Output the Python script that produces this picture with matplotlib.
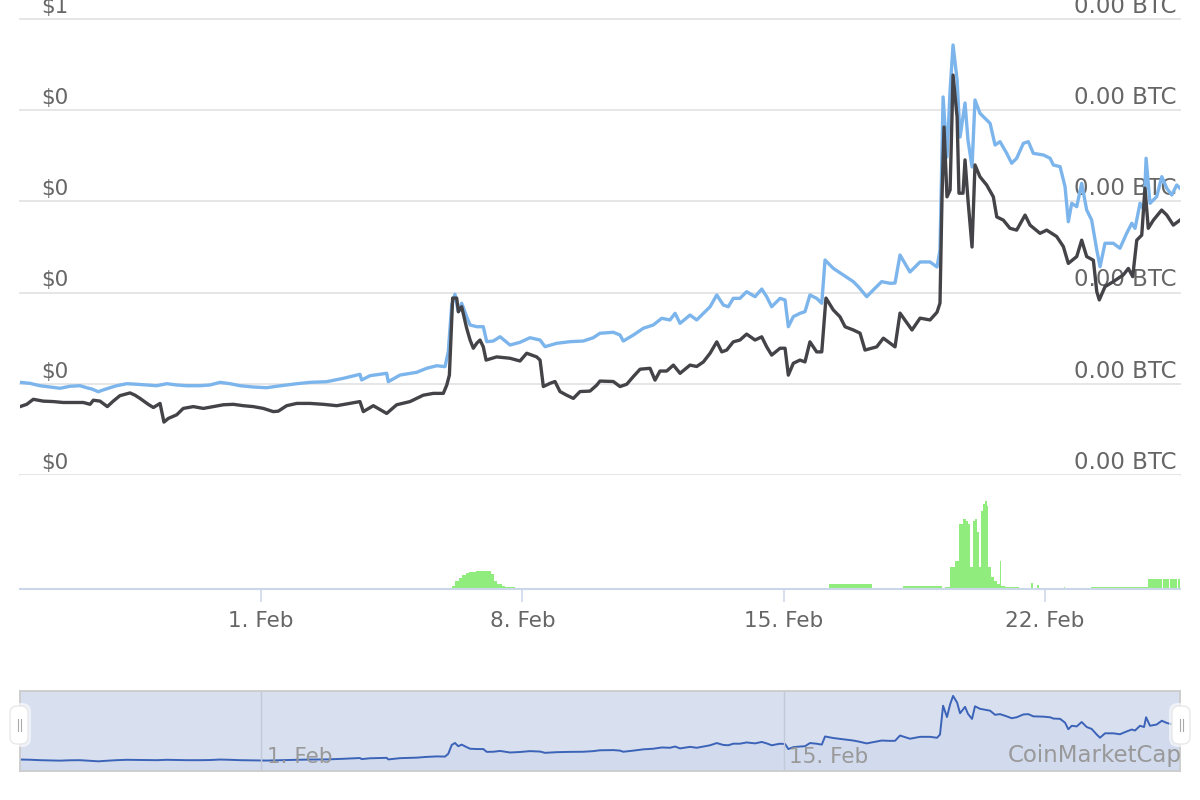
import math

import matplotlib
matplotlib.use('Agg')
import matplotlib.pyplot as plt
import matplotlib.dates as mdates
from matplotlib.patches import FancyBboxPatch
from matplotlib.transforms import IdentityTransform
import pandas as pd

# Hourly data, hours counted from 25 Jan 2021 00:00
START = pd.Timestamp('2021-01-25 00:00')
VIEW_HOURS = (13.06, 758.8)

# Price in USD (left axis, light blue line)
usd_hours = [13.1, 19.5, 25.9, 32.3, 38.8, 45.2, 51.6, 55.9, 59.2, 63.4, 66.4, 70.9, 75.2, 81.7,
             88.1, 94.5, 100.9, 107.4, 113.8, 120.2, 128.8, 135.2, 141.6, 148.1, 154.5, 163.0,
             171.7, 178.1, 184.5, 191.0,
             199.5, 210.2, 220.9, 231.6, 232.7, 238.1, 248.8, 249.8, 257.4, 268.1, 274.5, 281.0,
             286.3, 288.4, 290.6, 292.7, 294.8, 297.0, 300.2, 302.4, 306.7, 310.9, 313.1, 317.3,
             321.7, 328.1, 334.5, 340.9, 347.4, 350.6, 358.1, 366.7, 375.2, 381.6,
             385.9, 394.5, 398.8, 400.9, 407.4, 413.8, 420.2, 425.6, 430.9, 434.2, 437.4, 443.8,
             448.1, 452.4, 456.7, 461.0, 465.2, 468.4, 471.6, 475.9, 480.2, 485.6, 489.9, 493.1,
             496.3, 501.7, 504.9, 507.0, 510.2, 514.5, 517.7, 520.9, 525.2, 528.5, 530.6, 535.9,
             542.4, 548.8, 552.0, 557.4, 561.6, 567.0, 572.4,
             575.6, 578.8, 585.2, 591.7, 598.1, 602.6, 604.5, 606.5, 609.0, 611.0, 612.9, 615.5,
             617.4, 620.6, 622.5, 625.1, 627.0,
             630.2, 636.7, 639.9, 643.1, 647.4, 650.6, 653.8, 658.1, 661.3, 664.5, 671.0, 675.3,
             677.4, 681.7, 684.9, 687.0, 689.2, 692.4, 695.6, 698.8, 702.0, 705.3, 707.4, 710.6,
             715.9, 720.2, 724.5, 727.8, 729.9, 733.1, 735.7, 737.0, 739.5, 743.8, 747.1, 750.3,
             753.5, 756.7, 758.8]
usd_price = [0.1016, 0.1005, 0.0979, 0.0965, 0.0951, 0.0973, 0.0979, 0.0957, 0.0943, 0.0913,
             0.0932, 0.0957, 0.0979, 0.1001, 0.0995, 0.0987, 0.0979, 0.1001, 0.0987, 0.0979,
             0.0979, 0.0987, 0.1016, 0.1001, 0.0979, 0.0965, 0.0957, 0.0973, 0.0987, 0.1001,
             0.1016, 0.1023, 0.1060, 0.1104, 0.1042, 0.1089, 0.1115, 0.1023, 0.1096, 0.1126,
             0.1170, 0.1198, 0.1188, 0.1352, 0.1864, 0.1981, 0.1791, 0.1883, 0.1736, 0.1645,
             0.1626, 0.1626, 0.1462, 0.1469, 0.1516, 0.1425, 0.1455, 0.1505, 0.1480, 0.1407,
             0.1444, 0.1462, 0.1469, 0.1505,
             0.1554, 0.1565, 0.1535, 0.1469, 0.1535, 0.1609, 0.1645, 0.1718, 0.1700, 0.1773,
             0.1663, 0.1754, 0.1700, 0.1773, 0.1845, 0.1974, 0.1864, 0.1845, 0.1937, 0.1937,
             0.2010, 0.1955, 0.2039, 0.1955, 0.1845, 0.1937, 0.1919, 0.1626, 0.1736, 0.1773,
             0.1791, 0.1974, 0.1937, 0.1883, 0.2357, 0.2266, 0.2193, 0.2120, 0.2065, 0.1955,
             0.2029, 0.2120, 0.2102,
             0.2105, 0.2412, 0.2226, 0.2336, 0.2336, 0.2281, 0.2467, 0.4145, 0.3487, 0.4221,
             0.4715, 0.4331, 0.3706, 0.4079, 0.3673, 0.3377, 0.4112,
             0.3966, 0.3856, 0.3618, 0.3655, 0.3527, 0.3418, 0.3473, 0.3637, 0.3655, 0.3527,
             0.3509, 0.3473, 0.3399, 0.3381, 0.3161, 0.2777, 0.2979, 0.2942, 0.3198, 0.2906,
             0.2796, 0.2467, 0.2284, 0.2541, 0.2541, 0.2486, 0.2650, 0.2760, 0.2705, 0.2979,
             0.2906, 0.3473, 0.2979, 0.3052, 0.3271, 0.3144, 0.3070, 0.3180, 0.3144]

# Price in BTC (right axis, dark line), in satoshi
btc_hours = [13.1, 17.4, 21.6, 28.0, 34.5, 40.9, 47.3, 53.8, 58.1, 60.2, 64.5, 69.2, 73.0, 77.3,
             83.8, 87.0, 90.2, 95.5, 98.8, 103.1, 105.6, 108.4, 113.8, 118.0, 124.5, 130.9, 137.3,
             143.8, 150.2, 156.6, 163.0, 169.5, 175.9, 179.1, 184.5, 191.0,
             199.5, 208.1, 216.7, 225.2, 231.6, 233.8, 240.2, 248.8, 255.2, 263.8, 272.3, 278.8,
             285.2, 287.4, 289.1, 291.2, 293.8, 294.9, 297.0, 300.2, 302.4, 304.5, 306.7, 308.8,
             310.9, 312.7, 319.5, 328.1, 334.5, 338.8, 345.2, 347.4, 349.5, 353.8, 357.0, 360.2,
             364.5, 368.8, 373.1, 379.5, 383.8,
             385.9, 394.5, 398.8, 403.1, 407.4, 411.7, 418.1, 421.3, 424.5, 428.8, 433.1, 437.4,
             443.8, 448.1, 452.4, 456.7, 461.0, 464.2, 467.4, 471.6, 475.9, 480.2, 485.6, 489.9,
             493.1, 496.3, 501.7, 504.9, 507.0, 510.2, 514.5, 517.7, 520.9, 525.2, 528.5, 531.2,
             535.9, 540.2, 543.5, 548.8, 553.1, 556.3, 563.8, 568.1, 572.4,
             575.6, 578.8, 586.5, 591.7, 598.1, 602.6, 604.5, 605.8, 607.1, 609.0, 611.0, 612.9,
             615.5, 616.7, 619.3, 620.6, 622.5, 625.1, 627.0,
             630.2, 634.5, 638.8, 641.0, 645.2, 649.5, 653.8, 659.2, 662.4, 668.8, 673.1, 679.5,
             683.8, 687.0, 692.4, 695.6, 698.8, 703.1, 705.3, 706.9, 710.6, 715.9, 722.4, 725.6,
             728.4, 731.0, 734.2, 736.3, 738.4, 741.7, 747.0, 750.3, 754.5, 758.8]
btc_sats = [150, 155, 166, 162, 161, 159, 159, 159, 155, 164, 162, 150, 162, 174, 180, 175, 168,
            155, 148, 157, 116, 124, 132, 146, 150, 146, 150, 154, 155, 152, 150, 146, 139, 140,
            152, 157,
            157, 155, 152, 157, 161, 139, 152, 135, 154, 161, 175, 179, 179, 197, 219, 388, 388,
            358, 369, 322, 296, 278, 289, 296, 281, 252, 259, 256, 250, 267, 259, 252, 194, 201,
            205, 183, 175, 168, 183, 184, 197,
            206, 205, 194, 199, 216, 232, 234, 208, 228, 228, 241, 223, 241, 238, 248, 267, 292,
            270, 274, 292, 296, 309, 296, 303, 281, 263, 278, 278, 219, 245, 252, 248, 292, 270,
            270, 388, 362, 347, 325, 318, 311, 274, 281, 300, 289,
            281, 355, 318, 344, 340, 357, 377, 610, 763, 610, 625, 877, 785, 618, 618, 691, 603,
            500, 680,
            654, 636, 610, 566, 559, 541, 537, 570, 548, 530, 537, 523, 501, 464, 479, 515, 479,
            471, 402, 384, 413, 424, 439, 453, 435, 515, 526, 629, 541, 559, 581, 570, 548, 559]

# 24h volume (thousand USD), stepped
vol_hours = [13, 291, 293, 295, 297, 300, 302, 306, 316, 318, 320, 323, 325, 331,
             533, 561, 581, 606, 608, 611, 614, 617, 619, 621, 622.5, 624, 625.5, 627, 628,
             629.5, 631, 632, 633.5, 635, 635.5, 637, 639, 641, 643, 644, 646, 655,
             663, 664, 667, 668, 684, 685, 701.5, 738, 747, 747.7, 751.5, 752.2, 756.7, 757.4, 759]
vol_k = [0, 3, 8, 11, 14, 16, 17, 18, 15, 8, 5, 3, 2, 0,
         5, 0, 3, 0, 2, 22, 28, 65, 70, 68, 65, 22, 68, 70, 57,
         22, 78, 85, 88, 83, 22, 12, 8, 5, 28, 3, 2, 0,
         6, 0, 4, 0, 2, 0, 2, 10, 0, 10, 0, 10, 0, 10, 10]

usd_ticks = [0, 0.1, 0.2, 0.3, 0.4, 0.5]
btc_ticks = [0, 0.000002, 0.000004, 0.000006, 0.000008, 0.00001]
nav_grid_days = ['2021-02-01', '2021-02-15']

TEXT = '#666666'
FS = 15.5


def to_dates(hours):
    return START + pd.to_timedelta(hours, unit='h')


def px_axes(fig, x0, y0, x1, y1):
    """Axes placed by pixel box (top-left origin) on a 1200x800 figure."""
    return fig.add_axes([x0 / 1200, 1 - y1 / 800, (x1 - x0) / 1200, (y1 - y0) / 800])


def bare(ax):
    for s in ax.spines.values():
        s.set_visible(False)
    ax.tick_params(left=False, right=False, bottom=False, top=False,
                   labelleft=False, labelright=False, labelbottom=False)


fig = plt.figure(figsize=(12, 8), dpi=100)
xlim = (START + pd.Timedelta(hours=VIEW_HOURS[0]), START + pd.Timedelta(hours=VIEW_HOURS[1]))

# price pane
ax = px_axes(fig, 20, 19, 1180, 475)
ax2 = ax.twinx()
for a in (ax, ax2):
    bare(a)
    a.set_xlim(xlim)
ax.set_ylim(usd_ticks[0], usd_ticks[-1])
ax2.set_ylim(btc_ticks[0], btc_ticks[-1])

for v in usd_ticks:
    ax.axhline(v, color='#e6e6e6', lw=1.4, clip_on=False, zorder=0)

for v_usd, v_btc in zip(usd_ticks, btc_ticks):
    ax.annotate(f'${math.floor(v_usd + 0.5 + 1e-9)}', xy=(0.018, v_usd),
                xycoords=ax.get_yaxis_transform(), xytext=(0, 4.5), textcoords='offset points',
                ha='left', va='baseline', fontsize=FS, color=TEXT, zorder=1,
                annotation_clip=False)
    ax.annotate(f'{v_btc:.2f} BTC', xy=(0.9966, v_usd),
                xycoords=ax.get_yaxis_transform(), xytext=(0, 4.5), textcoords='offset points',
                ha='right', va='baseline', fontsize=16.5, color=TEXT, zorder=1,
                annotation_clip=False)

ax.plot(to_dates(usd_hours), usd_price, color='#7cb5ec', lw=2.4, zorder=3,
        solid_joinstyle='round')
ax2.plot(to_dates(btc_hours), [s * 1e-8 for s in btc_sats], color='#434348', lw=2.4,
         solid_joinstyle='round')

# volume pane
axv = px_axes(fig, 20, 475, 1180, 589)
axv.set_xlim(xlim)
axv.set_ylim(0, 114)
axv.fill_between(to_dates(vol_hours), vol_k, step='post', color='#90ed7d', lw=0)
for name, s in axv.spines.items():
    s.set_visible(name == 'bottom')
axv.spines['bottom'].set_color('#ccd6eb')
axv.spines['bottom'].set_linewidth(1.5)
axv.set_yticks([])
axv.xaxis.set_major_locator(mdates.DayLocator(bymonthday=[1, 8, 15, 22]))
axv.xaxis.set_major_formatter(mdates.DateFormatter('%-d. %b'))
axv.tick_params(axis='x', length=9, width=1.1, color='#ccd6eb', labelsize=FS,
                labelcolor=TEXT, pad=7)

# navigator
axn = px_axes(fig, 20, 691, 1180, 771)
axn.set_xlim(xlim)
axn.set_ylim(0.035, 0.50)
axn.set_facecolor('#d8dfef')
for s in axn.spines.values():
    s.set_color('#cccccc')
    s.set_linewidth(1.3)
axn.set_xticks([])
axn.set_yticks([])
nav_dates = to_dates(usd_hours)
axn.fill_between(nav_dates, usd_price, 0, color='#c9d3ea', alpha=0.35, lw=0)
axn.plot(nav_dates, usd_price, color='#3b63b8', lw=1.4)
for day in nav_grid_days:
    d = pd.Timestamp(day)
    dn = mdates.date2num(d)
    axn.axvline(dn, color='#c2c9d8', lw=1)
    axn.annotate(d.strftime('%-d. %b'), xy=(dn, 0), xycoords=axn.get_xaxis_transform(),
                 xytext=(4, 6), textcoords='offset points', ha='left', va='baseline',
                 fontsize=FS, color='#999999')

fig.text(1182 / 1200, 1 - 762 / 800, 'CoinMarketCap', ha='right', va='baseline',
         fontsize=16.5, color='#999999')

# navigator handles
for xc in (19, 1181):
    shadow = FancyBboxPatch((xc - 12, 800 - 747), 24, 44,
                            boxstyle='round,pad=0,rounding_size=9',
                            transform=IdentityTransform(), facecolor='#ffffff', alpha=0.6,
                            edgecolor='none')
    handle = FancyBboxPatch((xc - 9, 800 - 744), 18, 38,
                            boxstyle='round,pad=0,rounding_size=7',
                            transform=IdentityTransform(), facecolor='white',
                            edgecolor='#e4e4e4', lw=0.8)
    fig.patches.extend([shadow, handle])
    for dx in (-1.5, 1.5):
        fig.lines.append(plt.Line2D([xc + dx, xc + dx], [800 - 731, 800 - 719],
                                    transform=IdentityTransform(), color='#aaaaaa', lw=0.8))

fig.savefig('out.png', dpi=100)
